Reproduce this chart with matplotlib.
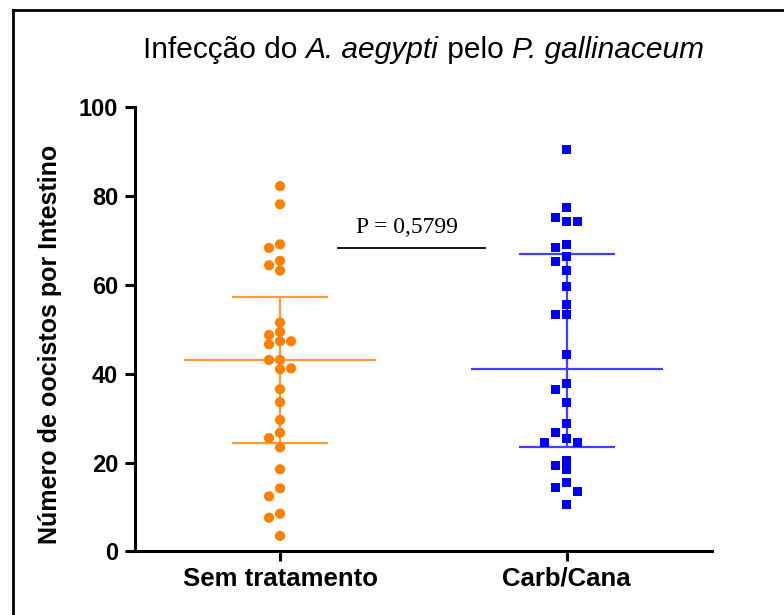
import numpy as np
import matplotlib
matplotlib.use("Agg")
import matplotlib.pyplot as plt
from matplotlib.lines import Line2D
from matplotlib.offsetbox import TextArea, HPacker, AnnotationBbox

# dados
categorias = ["Sem tratamento", "Carb/Cana"]
sem_tratamento = [82.2, 78.1, 69.1, 68.3, 65.4, 64.4, 63.2, 51.5, 49.4, 48.7,
                  47.3, 47.3, 46.6, 43.1, 43.1, 41.2, 41.0, 36.5, 33.6, 29.6,
                  26.7, 25.5, 23.4, 18.5, 14.2, 12.4, 8.5, 7.6, 3.5]
carb_cana = [90.5, 77.3, 75.2, 74.2, 74.2, 69.1, 68.4, 66.4, 65.3, 63.2,
             59.6, 55.5, 53.4, 53.4, 44.4, 37.7, 36.5, 33.6, 28.7, 26.7,
             25.5, 24.6, 24.6, 20.5, 19.3, 18.4, 15.6, 14.5, 13.6, 10.6]
y_ticks = [0, 20, 40, 60, 80, 100]
p_texto = "P = 0,5799"
titulo = [("Infecção do ", "normal"), ("A. aegypti", "italic"),
          (" pelo ", "normal"), ("P. gallinaceum", "italic")]

plt.rcParams['font.family'] = ['Liberation Sans', 'DejaVu Sans']


def posicoes_enxame(valores, centro, passo, diam):
    """Distribui os pontos em colunas para nao sobrepor (estilo Prism)."""
    valores = np.asarray(valores)
    ordem = np.argsort(-valores, kind="stable")
    colocados = []
    xs = np.zeros(len(valores))
    for i in ordem:
        v = valores[i]
        for faixa in [0, -1, 1, -2, 2, -3, 3]:
            if all(abs(v - w) >= diam for f, w in colocados if f == faixa):
                break
        colocados.append((faixa, v))
        xs[i] = centro + faixa * passo
    return xs


fig = plt.figure(figsize=(7.84, 6.15), dpi=100)
ax = fig.add_axes([0.1722, 0.1033, 0.736, 0.7227])

grupos = [
    (sem_tratamento, "#FF8000", "#FF9A3C", "o", 54),
    (carb_cana, "#0000FF", "#4040FF", "s", 42),
]

for i, (valores, cor, cor_linha, marcador, tam) in enumerate(grupos):
    q1, med, q3 = np.percentile(valores, [25, 50, 75], method="weibull")
    ax.hlines(med, i - 0.335, i + 0.335, color=cor_linha, lw=1.6, zorder=2)
    ax.hlines([q1, q3], i - 0.167, i + 0.167, color=cor_linha, lw=1.6, zorder=2)
    ax.vlines(i, q1, q3, color=cor_linha, lw=1.6, zorder=2)
    xs = posicoes_enxame(valores, i, 0.0384, 2.1)
    ax.scatter(xs, valores, s=tam, marker=marcador, color=cor,
               edgecolors="none", zorder=3)

# linha e texto do valor de P
ax.plot([0.202, 0.715], [68.2, 68.2], color="black", lw=1.3, zorder=2)
ax.text(0.441, 73.0, p_texto, ha="center", va="center", fontsize=17,
        family=["Liberation Serif", "DejaVu Serif"])

ax.set_xlim(-0.506, 1.507)
ax.set_ylim(0, 100)
ax.set_yticks(y_ticks)
ax.set_xticks(range(len(categorias)))
ax.set_xticklabels(categorias, fontsize=18.5, fontweight="bold")
ax.set_yticklabels([str(t) for t in y_ticks], fontsize=17, fontweight="bold")
ax.tick_params(axis="y", direction="out", length=7, width=2.2, pad=5)
ax.tick_params(axis="x", direction="out", length=7, width=2.2, pad=4)
for lado in ["top", "right"]:
    ax.spines[lado].set_visible(False)
for lado in ["left", "bottom"]:
    ax.spines[lado].set_linewidth(2.2)

ax.set_ylabel("Número de oocistos por Intestino", fontsize=18,
              fontweight="bold")
ax.yaxis.set_label_coords(-0.127, 0.465)

# titulo com partes em italico
partes = [TextArea(t, textprops=dict(fontsize=21.5, fontstyle=s))
          for t, s in titulo]
caixa = HPacker(children=partes, align="baseline", pad=0, sep=0)
ab = AnnotationBbox(caixa, (0.54, 0.918), xycoords="figure fraction",
                    frameon=False, box_alignment=(0.5, 0.5))
fig.add_artist(ab)

# moldura da imagem original (apenas topo e esquerda)
fig.add_artist(Line2D([0.0166, 1.0], [0.983, 0.983], color="black", lw=2,
                      transform=fig.transFigure))
fig.add_artist(Line2D([0.0166, 0.0166], [0.0, 0.983], color="black", lw=2,
                      transform=fig.transFigure))

fig.savefig("out.png", dpi=100)
